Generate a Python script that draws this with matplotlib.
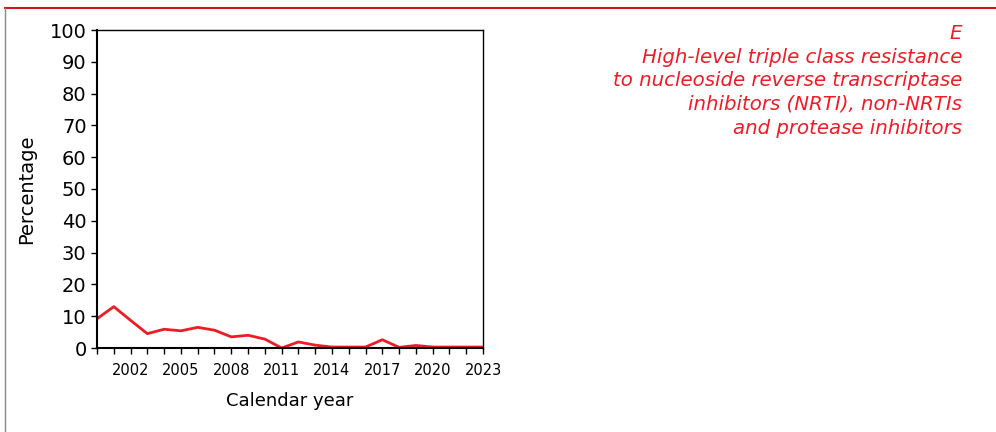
import matplotlib.pyplot as plt
from matplotlib.lines import Line2D
import numpy as np

years = list(range(2000, 2024))
pct = [9.2, 13.0, 8.7, 4.5, 5.9, 5.4, 6.5, 5.6, 3.5, 4.0, 2.8, 0.0,
       1.9, 0.9, 0.3, 0.3, 0.3, 2.6, 0.2, 0.8, 0.3, 0.3, 0.3, 0.3]
label_years = [2002, 2005, 2008, 2011, 2014, 2017, 2020, 2023]
title_lines = ["E",
               "High-level triple class resistance",
               "to nucleoside reverse transcriptase",
               "inhibitors (NRTI), non-NRTIs",
               "and protease inhibitors"]

red = '#ee1c25'

fig = plt.figure(figsize=(9.96, 4.32), dpi=100)
ax = fig.add_axes([97/996, 1 - 348/432, (483-97)/996, (348-30)/432])

ax.plot(years, pct, color=red, lw=2)
ax.set_xlim(2000, 2023)
ax.set_ylim(0, 100)
ax.set_yticks(range(0, 101, 10))
ax.set_xticks(label_years)
ax.set_xticks(years, minor=True)
ax.tick_params(axis='y', labelsize=14, length=4, direction='out', width=1)
ax.tick_params(axis='x', which='both', labelsize=10.5, length=4, direction='out', width=1, pad=7)
for s in ax.spines.values():
    s.set_linewidth(1)
ax.spines['left'].set_linewidth(1.5)
ax.spines['bottom'].set_linewidth(1.5)
ax.set_ylabel('Percentage', fontsize=14, labelpad=10)
ax.set_xlabel('Calendar year', fontsize=13, labelpad=10)

# outer frame
fig.add_artist(Line2D([5/996, 1], [1 - 8/432, 1 - 8/432], color='#d0141e', lw=1.5))
fig.add_artist(Line2D([5/996, 5/996], [0, 1 - 8/432], color='#888888', lw=1))

fig.text(962/996, 1 - 24/432, "\n".join(title_lines), color=red, fontsize=14.2,
         style='italic', ha='right', va='top', multialignment='right', linespacing=1.31)

fig.savefig('out.png', dpi=100)
